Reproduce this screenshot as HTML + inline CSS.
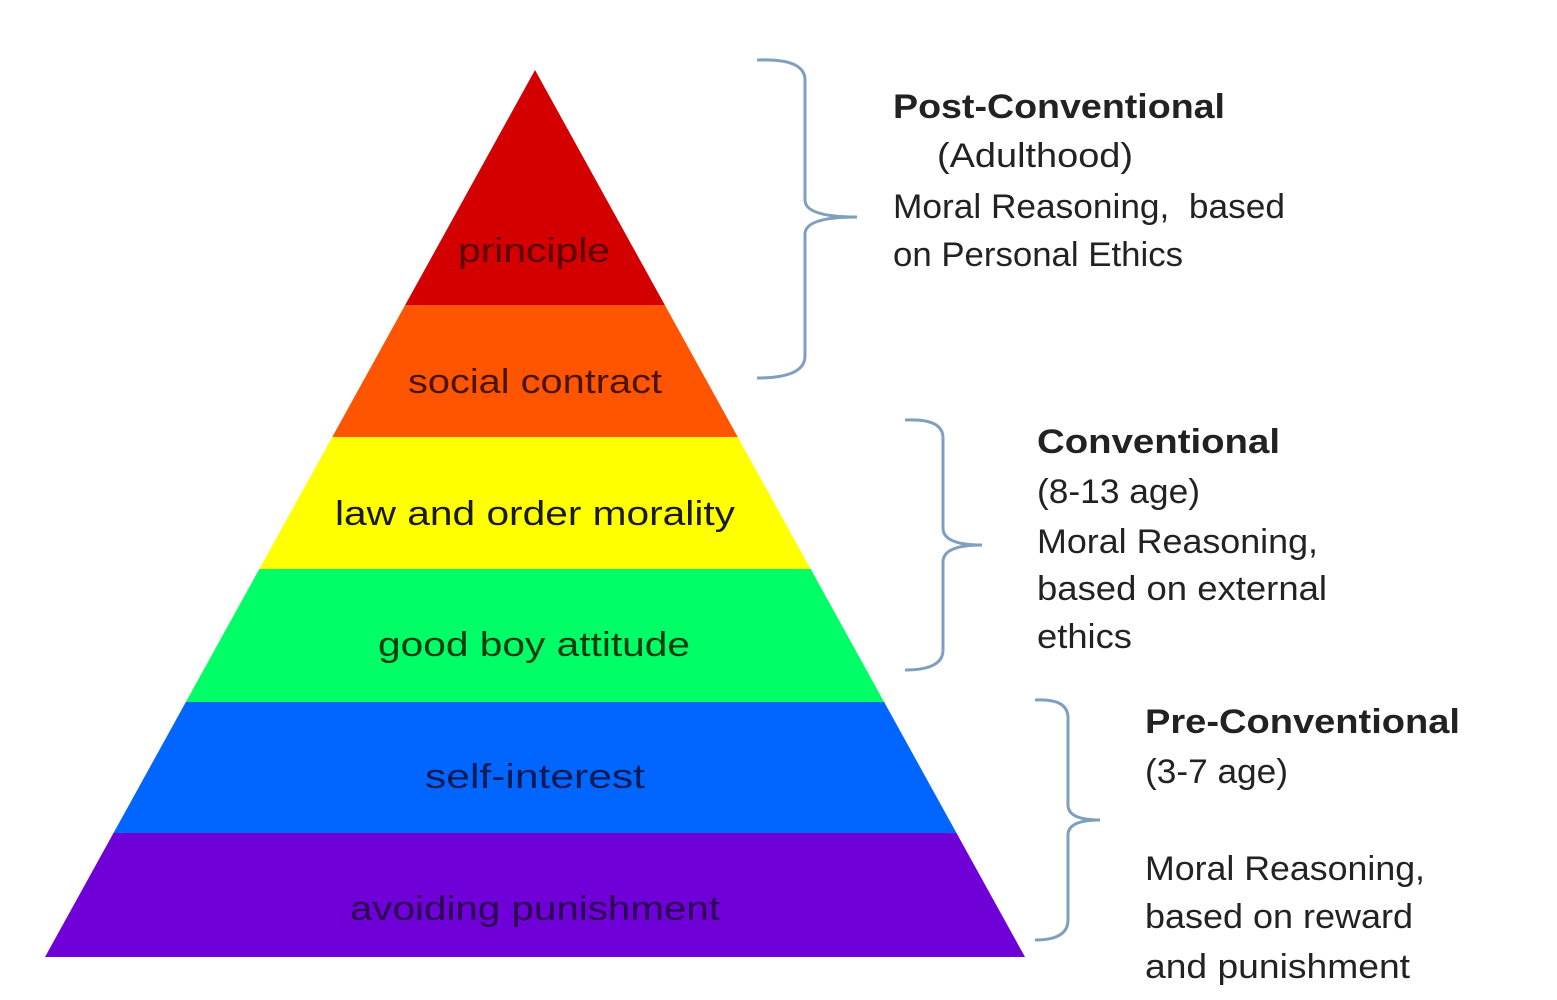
<!DOCTYPE html>
<html><head><meta charset="utf-8"><style>
html,body{margin:0;padding:0;background:#fff;}
svg{display:block;}
text{font-family:"Liberation Sans","DejaVu Sans",sans-serif;font-size:34px;}
</style></head><body>
<svg width="1557" height="1000" viewBox="0 0 1557 1000" xmlns="http://www.w3.org/2000/svg">
<defs><clipPath id="pyr"><polygon points="535,70 1025,957 45,957"/></clipPath></defs>
<rect width="1557" height="1000" fill="#fff"/>
<g clip-path="url(#pyr)">
<rect x="0" y="60" width="1100" height="246" fill="#d40000"/>
<rect x="0" y="305" width="1100" height="133" fill="#ff5500"/>
<rect x="0" y="437" width="1100" height="133" fill="#ffff00"/>
<rect x="0" y="569" width="1100" height="134" fill="#00ff66"/>
<rect x="0" y="702" width="1100" height="132" fill="#0066ff"/>
<rect x="0" y="833" width="1100" height="130" fill="#7000d8"/>
</g>
<g fill="#1a1a1a" lengthAdjust="spacingAndGlyphs">
<text x="458" y="262" textLength="152" lengthAdjust="spacingAndGlyphs" fill="#5a0000">principle</text>
<text x="408" y="393" textLength="254" lengthAdjust="spacingAndGlyphs" fill="#4a1500">social contract</text>
<text x="335" y="525" textLength="400" lengthAdjust="spacingAndGlyphs">law and order morality</text>
<text x="378" y="656" textLength="312" lengthAdjust="spacingAndGlyphs" fill="#0a3a10">good boy attitude</text>
<text x="425" y="788" textLength="220" lengthAdjust="spacingAndGlyphs" fill="#0a1a55">self-interest</text>
<text x="350" y="920" textLength="370" lengthAdjust="spacingAndGlyphs" fill="#2a0050">avoiding punishment</text>
</g>
<g fill="none" stroke="#7f9fbf" stroke-width="3">
<path d="M757,60 Q805,58 805,80 L805,200 Q805,217 857,217 Q805,217 805,234 L805,356 Q805,378 757,378"/>
<path d="M905,420 Q943,418 943,438 L943,528 Q943,545 982,545 Q943,545 943,562 L943,650 Q943,670 905,670"/>
<path d="M1035,700 Q1068,698 1068,718 L1068,805 Q1068,820 1100,820 Q1068,820 1068,835 L1068,920 Q1068,940 1035,940"/>
</g>
<g fill="#222">
<text x="893" y="118" font-weight="bold" textLength="332" lengthAdjust="spacingAndGlyphs">Post-Conventional</text>
<text x="937" y="167" textLength="196" lengthAdjust="spacingAndGlyphs">(Adulthood)</text>
<text x="893" y="218" textLength="392" lengthAdjust="spacingAndGlyphs" xml:space="preserve">Moral Reasoning,  based</text>
<text x="893" y="266" textLength="290" lengthAdjust="spacingAndGlyphs">on Personal Ethics</text>

<text x="1037" y="453" font-weight="bold" textLength="243" lengthAdjust="spacingAndGlyphs">Conventional</text>
<text x="1037" y="503" textLength="163" lengthAdjust="spacingAndGlyphs">(8-13 age)</text>
<text x="1037" y="553" textLength="281" lengthAdjust="spacingAndGlyphs">Moral Reasoning,</text>
<text x="1037" y="600" textLength="290" lengthAdjust="spacingAndGlyphs">based on external</text>
<text x="1037" y="648" textLength="95" lengthAdjust="spacingAndGlyphs">ethics</text>

<text x="1145" y="733" font-weight="bold" textLength="315" lengthAdjust="spacingAndGlyphs">Pre-Conventional</text>
<text x="1145" y="783" textLength="143" lengthAdjust="spacingAndGlyphs">(3-7 age)</text>
<text x="1145" y="880" textLength="280" lengthAdjust="spacingAndGlyphs">Moral Reasoning,</text>
<text x="1145" y="928" textLength="268" lengthAdjust="spacingAndGlyphs">based on reward</text>
<text x="1145" y="978" textLength="265" lengthAdjust="spacingAndGlyphs">and punishment</text>
</g>
</svg>
</body></html>
